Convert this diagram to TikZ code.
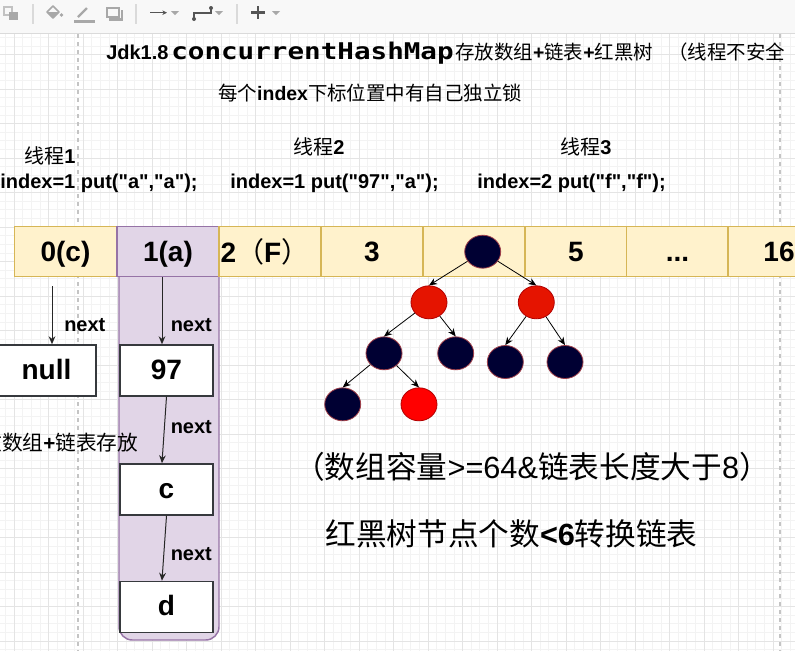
\documentclass[tikz,border=0pt]{standalone}
\usepackage{fontspec}
\setmainfont{Liberation Sans}[Ligatures=TeXOff]
\newfontfamily\cjk{Noto Sans CJK SC}
\newfontfamily\monob{DejaVu Sans Mono}[FakeStretch=1.2]
\usetikzlibrary{arrows.meta,shapes.geometric}
\definecolor{cellfill}{HTML}{FFF2CC}
\definecolor{celldraw}{HTML}{D6B656}
\definecolor{purfill}{HTML}{E1D5E7}
\definecolor{purdraw}{HTML}{9673A6}
\definecolor{navy}{HTML}{000033}
\definecolor{navyedge}{HTML}{A0404A}
\definecolor{redA}{HTML}{E51400}
\definecolor{redB}{HTML}{FF0000}
\definecolor{redEdge}{HTML}{B20000}
\definecolor{boxdraw}{HTML}{36393D}
\definecolor{gridmin}{HTML}{F3F3F3}
\definecolor{gridmaj}{HTML}{E4E4E4}
\definecolor{pageln}{HTML}{C4C4C4}
\definecolor{tbbg}{HTML}{F8F8F8}
\definecolor{tbline}{HTML}{DADADA}
\definecolor{tbgray}{HTML}{A8A8A8}
\definecolor{tbdark}{HTML}{555555}
\begin{document}
\begin{tikzpicture}[x=0.75pt,y=-0.75pt,
  cellbox/.style={draw=celldraw, fill=cellfill, line width=1.1pt, minimum width=76.5pt, minimum height=37.5pt, inner sep=0pt, font=\bfseries\fontsize{21}{24}\selectfont, text height=15.5pt, text depth=0pt},
  listbox/.style={draw=boxdraw, fill=white, line width=1.1pt, minimum width=69.75pt, minimum height=38.25pt, inner sep=0pt, font=\bfseries\fontsize{21}{24}\selectfont, text height=13pt, text depth=0pt},
  nextlbl/.style={font=\bfseries\fontsize{15}{18}\selectfont, inner sep=0pt, anchor=base west},
  txt/.style={inner sep=0pt, anchor=base west},
  tnode/.style={ellipse, minimum width=27pt, minimum height=24.75pt, inner sep=0pt, line width=0.6pt},
  dark/.style={tnode, fill=navy, draw=navyedge},
  redn/.style={tnode, fill=redA, draw=redEdge},
  tarrow/.style={-{Stealth[length=6pt,width=5pt]}, line width=0.6pt},
  larrow/.style={-{Stealth[length=6pt,width=5pt]}, line width=0.75pt, draw=black!85},
  tbsep/.style={draw=tbline, line width=0.8pt},
  dropdn/.style={fill=tbgray}
]
\useasboundingbox (0,0) rectangle (795,651);
\clip (0,0) rectangle (795,651);
\fill[white] (0,0) rectangle (795,651);
% ---------- toolbar
\fill[tbbg] (0,0) rectangle (795,33);
\draw[tbline, line width=0.8pt] (0,33.3) -- (795,33.3);
\draw[tbgray!70, line width=0.9pt] (4,7) rectangle (12,15);
\fill[tbgray] (9,12) rectangle (18,20);
\draw[tbsep] (33,4) -- (33,24);
\draw[tbgray, line width=1.3pt, line join=round] (47,12) -- (53,6) -- (59,12) -- (53,18) -- cycle;
\fill[tbgray] (47,12) -- (59,12) -- (53,18) -- cycle;
\fill[tbgray] (61.5,15) circle (1.8);
\draw[tbgray, line width=1.6pt] (78,17) -- (87,8);
\draw[tbgray, line width=2.2pt] (74,21.5) -- (95,21.5);
\draw[tbgray, line width=1.3pt] (107,8) rectangle (119,17);
\draw[tbgray, line width=1.8pt] (109,19.5) -- (122,19.5) -- (122,10);
\draw[tbsep] (136,4) -- (136,24);
\draw[tbdark, line width=1pt, -{Stealth[length=3.5pt,width=3.5pt]}] (150,12.7) -- (167,12.7);
\fill[dropdn] (171,11) -- (179,11) -- (175,15) -- cycle;
\draw[tbdark, line width=1pt] (194,19) -- (194,13) -- (211,13) -- (211,8);
\fill[tbdark] (194,19) circle (2); \fill[tbdark] (211,8) circle (2);
\fill[dropdn] (215,11) -- (223,11) -- (219,15) -- cycle;
\draw[tbsep] (237,4) -- (237,24);
\draw[tbdark, line width=2.2pt] (251,12.5) -- (265,12.5) (258,6) -- (258,19);
\fill[dropdn] (272,11) -- (280,11) -- (276,15) -- cycle;
% ---------- grid
\foreach \k in {-1,...,90} \draw[gridmin, line width=0.5pt] ({14+8.625*\k},34) -- ({14+8.625*\k},651);
\foreach \k in {-22,...,49} \draw[gridmin, line width=0.5pt] (0,{227+8.625*\k}) -- (795,{227+8.625*\k});
\foreach \k in {0,...,22} \draw[gridmaj, line width=0.6pt] ({14+34.5*\k},34) -- ({14+34.5*\k},651);
\foreach \k in {-5,...,12} \draw[gridmaj, line width=0.6pt] (0,{227+34.5*\k}) -- (795,{227+34.5*\k});
\draw[pageln, dashed, line width=0.8pt] (78,34) -- (78,651);
\draw[pageln, dashed, line width=0.8pt] (780,34) -- (780,651);
% ---------- titles
\node[txt, font=\bfseries\fontsize{15}{18}\selectfont] (tA) at (106,59.5) {Jdk1.8};
\node[txt, font=\monob\bfseries\fontsize{17.25}{20}\selectfont] (tB) at (171,59.5) {concurrentHashMap};
\node[txt, font=\fontsize{14.6}{18}\selectfont] (tC) at (455,59.5) {{\cjk 存放数组}{\bfseries +}{\cjk 链表}{\bfseries +}{\cjk 红黑树}};
\node[txt, font=\cjk\fontsize{14.6}{18}\selectfont] (tD) at (668,59.5) {（线程不安全};
\node[txt, font=\fontsize{14.6}{18}\selectfont] (sub) at (218,100) {{\cjk 每个}{\bfseries index}{\cjk 下标位置中有自己独立锁}};
% threads
\node[txt, font=\fontsize{15}{18}\selectfont] (th1) at (24,163) {{\cjk 线程}{\bfseries 1}};
\node[txt, font=\fontsize{15}{18}\selectfont] (th2) at (293,154.5) {{\cjk 线程}{\bfseries 2}};
\node[txt, font=\fontsize{15}{18}\selectfont] (th3) at (560,154.5) {{\cjk 线程}{\bfseries 3}};
\node[txt, font=\bfseries\fontsize{15}{18}\selectfont] (p1) at (0,188) {index=1 put("a","a");};
\node[txt, font=\bfseries\fontsize{15}{18}\selectfont] (p2) at (230,188) {index=1 put("97","a");};
\node[txt, font=\bfseries\fontsize{15}{18}\selectfont] (p3) at (477,188) {index=2 put("f","f");};
% ---------- purple container
\draw[fill=purfill, draw=purdraw, line width=1.1pt, rounded corners=10pt] (119,230) -- (119,640) -- (219,640) -- (219,230) [sharp corners] -- cycle;
% ---------- array
\node[cellbox] (c0) at (65.5,251.5) {0(c)};
\node[cellbox, fill=purfill, draw=purdraw] (c1) at (168,251.5) {1(a)};
\node[cellbox] (c2) at (270,251.5) {};
\node[inner sep=0pt, anchor=base, font=\bfseries\fontsize{21}{24}\selectfont] (c2t) at (265,262) {2{\cjk\mdseries （}F{\cjk\mdseries ）}};
\node[cellbox] (c3) at (372,251.5) {3};
\node[cellbox] (c4) at (474,251.5) {};
\node[cellbox] (c5) at (576,251.5) {5};
\node[cellbox] (c6) at (677.5,251.5) {...};
\node[cellbox] (c7) at (779,251.5) {16};
% ---------- linked lists
\node[listbox, minimum width=74.25pt] (nnull) at (46.5,370.5) {null};
\node[listbox] (n97) at (166.5,370.5) {97};
\node[listbox] (nc) at (166.5,489.5) {c};
\node[listbox] (nd) at (166.5,607) {d};
\coordinate (a0s) at (52,286);
\coordinate (a1s) at (162,277);
\draw[larrow] (a0s) -- (a0s |- nnull.north);
\draw[larrow] (a1s) -- (a1s |- n97.north);
\draw[larrow] (n97.south) -- ([xshift=-3.4pt]nc.north);
\draw[larrow] (nc.south) -- ([xshift=-3.4pt]nd.north);
\node[nextlbl] (nx1) at (64,331.7) {next};
\node[nextlbl] (nx2) at (170.5,331.7) {next};
\node[nextlbl] (nx3) at (170.5,433.3) {next};
\node[nextlbl] (nx4) at (170.5,560.7) {next};
\node[inner sep=0pt, anchor=base east, font=\fontsize{15.5}{18}\selectfont] (lefttxt) at (138.5,450) {{\cjk 放数组}{\bfseries +}{\cjk 链表存放}};
% ---------- red-black tree
\node[dark] (root) at (482.7,251.7) {};
\node[redn] (L) at (429,302.3) {};
\node[redn] (R) at (536.3,302.3) {};
\node[dark] (LL) at (384,353.3) {};
\node[dark] (LR) at (455.7,353.3) {};
\node[dark] (RL) at (505.3,362) {};
\node[dark] (RR) at (565,362) {};
\node[dark] (LLL) at (342.7,404.3) {};
\node[redn, fill=redB] (LLR) at (419,404.3) {};
\draw[tarrow] (root) -- (L.north);
\draw[tarrow] (root) -- (R.north);
\draw[tarrow] (L) -- (LL.north);
\draw[tarrow] (L) -- (LR.north);
\draw[tarrow] (R) -- (RL.north);
\draw[tarrow] (R) -- (RR.north);
\draw[tarrow] (LL) -- (LLL.north);
\draw[tarrow] (LL) -- (LLR.north);
% ---------- bottom texts
\node[inner sep=0pt, anchor=base, font=\fontsize{23}{27}\selectfont] (cond) at (532,478) {{\cjk （数组容量}>=64\&{\cjk 链表长度大于}8{\cjk ）}};
\node[inner sep=0pt, anchor=base, font=\fontsize{23}{27}\selectfont] (conv) at (511.5,545) {{\cjk 红黑树节点个数}{\bfseries <6}{\cjk 转换链表}};
\end{tikzpicture}
\end{document}
